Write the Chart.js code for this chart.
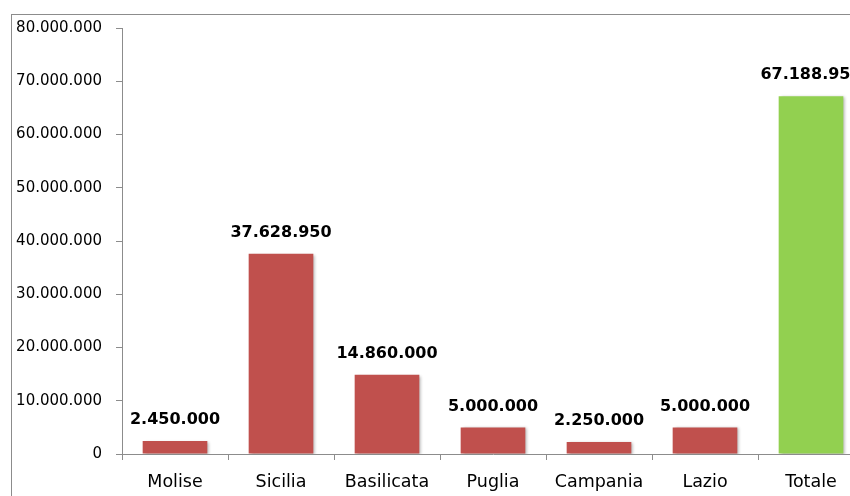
<!DOCTYPE html>
<html><head><meta charset="utf-8">
<script src="https://cdn.jsdelivr.net/npm/chart.js@4"></script>
<style>
html,body{margin:0;padding:0;width:850px;height:496px;overflow:hidden;background:#fff;}
#wrap{position:absolute;left:0;top:0;width:880px;height:496px;}
#frame{position:absolute;left:11px;top:14px;width:1000px;height:1000px;border:1px solid #8c8c8c;box-sizing:border-box;pointer-events:none;}
</style></head>
<body>
<div id="frame"></div>
<div id="wrap"><canvas id="c" width="880" height="496"></canvas></div>
<script>
const categories = ["Molise","Sicilia","Basilicata","Puglia","Campania","Lazio","Totale"];
const values = [2450000, 37628950, 14860000, 5000000, 2250000, 5000000, 67188950];
const barColors = ["#C0504D","#C0504D","#C0504D","#C0504D","#C0504D","#C0504D","#92D050"];
const yMax = 80000000;
const yStep = 10000000;

function fmt(v){ return String(Math.round(v)).replace(/\B(?=(\d{3})+(?!\d))/g, "."); }

const shadowPlugin = {
  id:'shadow',
  beforeDatasetsDraw(chart){ const c=chart.ctx; c.save(); c.shadowColor='rgba(0,0,0,0.3)'; c.shadowBlur=3; c.shadowOffsetX=2; c.shadowOffsetY=1; },
  afterDatasetsDraw(chart){ chart.ctx.restore(); }
};
const labelPlugin = {
  id:'vlabels',
  afterDatasetsDraw(chart){
    const c=chart.ctx; const meta=chart.getDatasetMeta(0);
    c.save(); c.font='bold 16px "DejaVu Sans"'; c.fillStyle='#000'; c.textAlign='center'; c.textBaseline='middle';
    meta.data.forEach((el,i)=>{ c.fillText(fmt(values[i]), el.x, el.y-21); });
    c.restore();
  }
};

new Chart(document.getElementById('c'),{
  type:'bar',
  data:{labels:categories,datasets:[{data:values,backgroundColor:barColors,borderWidth:0,categoryPercentage:1,barPercentage:0.61}]},
  options:{
    responsive:false, animation:false,
    layout:{padding:{top:28,right:16,left:0,bottom:0}},
    plugins:{legend:{display:false},tooltip:{enabled:false}},
    scales:{
      x:{
        grid:{offset:true,drawOnChartArea:false,drawTicks:true,tickLength:6,color:'#8c8c8c'},
        border:{color:'#8c8c8c'},
        ticks:{color:'#000',font:{family:'DejaVu Sans',size:17.5},padding:12,maxRotation:0},
        afterFit(s){ s.height=42; }
      },
      y:{
        min:0,max:yMax,
        grid:{drawOnChartArea:false,drawTicks:true,tickLength:6,color:'#8c8c8c'},
        border:{color:'#8c8c8c'},
        ticks:{stepSize:yStep,color:'#000',font:{family:'DejaVu Sans',size:15},padding:14,callback:(v)=>fmt(v)},
        afterFit(s){ s.width=122; }
      }
    }
  },
  plugins:[shadowPlugin,labelPlugin]
});
</script>
</body></html>
